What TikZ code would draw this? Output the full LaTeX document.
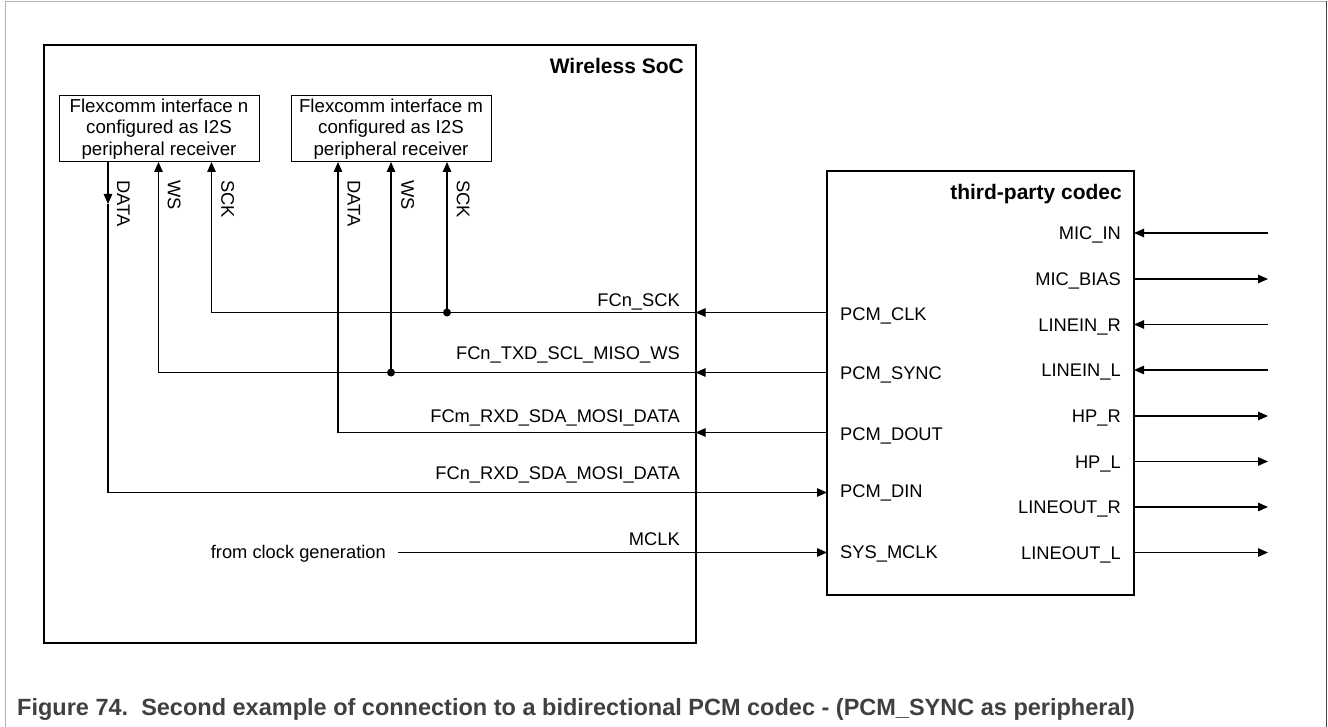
\documentclass[tikz,border=0pt]{standalone}
\usepackage{fontspec}
\setmainfont{Liberation Sans}
\usetikzlibrary{arrows.meta}
\begin{document}
\begin{tikzpicture}[x=1pt,y=-1pt,
  wire/.style={line width=1.2pt, black},
  sig/.style={-{Triangle[length=10pt,width=8.5pt]}},
  lbl/.style={inner sep=0pt, font=\fontsize{18.3}{21.7}\selectfont},
  ttl/.style={inner sep=0pt, font=\fontsize{21}{25}\selectfont\bfseries},
  vlbl/.style={lbl, rotate=-90, anchor=south west},
  fcbox/.style={draw, line width=1pt, minimum width=200pt, minimum height=66pt,
    align=center, inner sep=0pt, font=\fontsize{18.7}{21.7}\selectfont},
  bigbox/.style={draw, line width=2pt, inner sep=0pt}
]
\path[use as bounding box] (0,0) rectangle (1328,727);
% figure frame
\draw[gray!60, line width=1.2pt] (5.5,727) -- (5.5,1.5) -- (1326.5,1.5);
\draw[black!75, line width=1.5pt] (1326.5,1.5) -- (1326.5,727);

% main blocks
\node[bigbox, minimum width=651.5pt, minimum height=597pt] (soc) at (369.75,344) {};
\node[ttl, anchor=base east] (socT) at (684,74) {Wireless SoC};
\node[bigbox, minimum width=306.5pt, minimum height=424pt] (codec) at (980.25,383) {};
\node[ttl, anchor=base east] (codecT) at (1122,200) {third-party codec};

\node[fcbox] (fcn) at (159,129) {Flexcomm interface n\\configured as I2S\\peripheral receiver};
\node[fcbox] (fcm) at (391,129) {Flexcomm interface m\\configured as I2S\\peripheral receiver};

% vertical labels
\node[vlbl] (lnD) at (117,180) {DATA};
\node[vlbl] (lnW) at (167.5,180) {WS};
\node[vlbl] (lnS) at (221,180) {SCK};
\node[vlbl] (lmD) at (347.5,180) {DATA};
\node[vlbl] (lmW) at (401,180) {WS};
\node[vlbl] (lmS) at (456.5,180) {SCK};

% coordinates
\coordinate (nDb) at (108,162);   \coordinate (nDm) at (108,204);   \coordinate (nDc) at (108,492.5);
\coordinate (nWb) at (158.5,162); \coordinate (nWc) at (158.5,372.5);
\coordinate (nSb) at (211.5,162); \coordinate (nSc) at (211.5,312.5);
\coordinate (mDb) at (338,162);   \coordinate (mDc) at (338,432.5);
\coordinate (mWb) at (391,162);   \coordinate (dW) at (391,372.5);
\coordinate (mSb) at (447,162);   \coordinate (dS) at (447,312.5);
\coordinate (sCLK) at (695.5,312.5);  \coordinate (cCLK) at (827,312.5);
\coordinate (sSYNC) at (695.5,372.5); \coordinate (cSYNC) at (827,372.5);
\coordinate (sDOUT) at (695.5,432.5); \coordinate (cDOUT) at (827,432.5);
\coordinate (cDIN) at (827,492.5);
\coordinate (mclkS) at (398,552.5);   \coordinate (cMCLK) at (827,552.5);

% SCK
\draw[wire,sig] (cCLK) -- (sCLK);
\draw[wire,sig] (sCLK) -- (nSc) -- (nSb);
\draw[wire,sig] (dS) -- (mSb);
\fill (dS) circle (4pt);
% WS
\draw[wire,sig] (cSYNC) -- (sSYNC);
\draw[wire,sig] (sSYNC) -- (nWc) -- (nWb);
\draw[wire,sig] (dW) -- (mWb);
\fill (dW) circle (4pt);
% DATA m
\draw[wire,sig] (cDOUT) -- (sDOUT);
\draw[wire,sig] (sDOUT) -- (mDc) -- (mDb);
% DATA n
\draw[wire,sig] (nDb) -- (nDm);
\draw[wire,sig] (nDm) -- (nDc) -- (cDIN);
% MCLK
\node[lbl, anchor=base east] (clkgen) at (386,558.5) {from clock generation};
\draw[wire,sig] (mclkS) -- (cMCLK);

% wire labels
\node[lbl, anchor=base east] (wl1) at (680,306.5) {FCn\_SCK};
\node[lbl, anchor=base east] (wl2) at (680,359.5) {FCn\_TXD\_SCL\_MISO\_WS};
\node[lbl, anchor=base east] (wl3) at (680,422) {FCm\_RXD\_SDA\_MOSI\_DATA};
\node[lbl, anchor=base east] (wl4) at (680,479.5) {FCn\_RXD\_SDA\_MOSI\_DATA};
\node[lbl, anchor=base east] (wl5) at (680,545.5) {MCLK};

% codec left pins
\node[lbl, anchor=base west] (p1) at (840,320.5) {PCM\_CLK};
\node[lbl, anchor=base west] (p2) at (840,379.5) {PCM\_SYNC};
\node[lbl, anchor=base west] (p3) at (840,440.5) {PCM\_DOUT};
\node[lbl, anchor=base west] (p4) at (840,497.5) {PCM\_DIN};
\node[lbl, anchor=base west] (p5) at (840,558.5) {SYS\_MCLK};

% codec right pins
\foreach \i/\t/\y in {1/MIC\_IN/233, 3/LINEIN\_R/324.5, 4/LINEIN\_L/370}{
  \node[lbl, anchor=base east] (rl\i) at (1121,\y+6.5) {\t};
  \coordinate (rc\i) at (1134,\y);
  \coordinate (re\i) at (1268,\y);
  \draw[wire,sig] (re\i) -- (rc\i);
}
\foreach \i/\t/\y in {2/MIC\_BIAS/279, 5/HP\_R/416, 6/HP\_L/461.5, 7/LINEOUT\_R/507, 8/LINEOUT\_L/552.5}{
  \node[lbl, anchor=base east] (rl\i) at (1121,\y+6.5) {\t};
  \coordinate (rc\i) at (1134,\y);
  \coordinate (re\i) at (1268,\y);
  \draw[wire,sig] (rc\i) -- (re\i);
}

% caption
\node[inner sep=0pt, anchor=base west, text={rgb,255:red,64;green,64;blue,64},
  font=\fontsize{23.5}{28}\selectfont\bfseries] (cap) at (17,715)
  {Figure 74.\ \ Second example of connection to a bidirectional PCM codec - (PCM\_SYNC as peripheral)};
\end{tikzpicture}
\end{document}
